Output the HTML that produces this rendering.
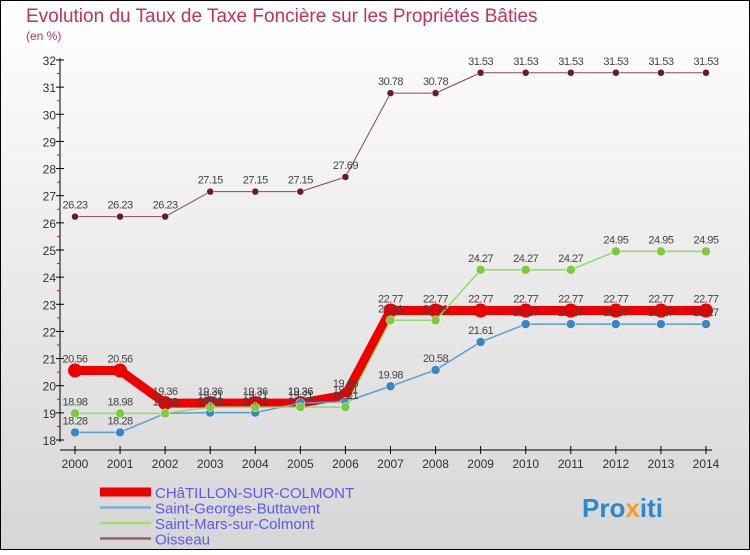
<!DOCTYPE html>
<html><head><meta charset="utf-8"><style>
body{margin:0}
#c{width:750px;height:550px;position:relative;font-family:"Liberation Sans",sans-serif}
</style></head><body>
<div id="c">
<svg id="s" width="750" height="550" xmlns="http://www.w3.org/2000/svg">
<defs><linearGradient id="bg" x1="0" y1="0" x2="0" y2="1"><stop offset="0" stop-color="#ffffff"/><stop offset="1" stop-color="#d6d6d6"/></linearGradient></defs>
<rect x="0.5" y="0.5" width="749" height="549" fill="url(#bg)" stroke="#000"/>
<text x="26" y="22" font-size="19" fill="#c8305a">Evolution du Taux de Taxe Foncière sur les Propriétés Bâties</text>
<text x="26" y="40" font-size="12" fill="#c8305a">(en %)</text>
<g id="axes"></g><g id="series"></g><g id="labels"></g><g id="legend"></g>
<text x="582" y="517" font-size="26" font-weight="bold" fill="#2a8ad0">Pro<tspan fill="#f0a020">x</tspan>iti</text>
</svg>
</div>
<script>
const years=[2000,2001,2002,2003,2004,2005,2006,2007,2008,2009,2010,2011,2012,2013,2014];
const yTicks=[18,19,20,21,22,23,24,25,26,27,28,29,30,31,32];
const chatillon=[20.56,20.56,19.36,19.36,19.36,19.36,19.65,22.77,22.77,22.77,22.77,22.77,22.77,22.77,22.77];
const stGeorges=[18.28,18.28,18.98,19.01,19.01,19.36,19.41,19.98,20.58,21.61,22.27,22.27,22.27,22.27,22.27];
const stMars=[18.98,18.98,18.98,19.21,19.21,19.21,19.21,22.41,22.41,24.27,24.27,24.27,24.95,24.95,24.95];
const oisseau=[26.23,26.23,26.23,27.15,27.15,27.15,27.69,30.78,30.78,31.53,31.53,31.53,31.53,31.53,31.53];
const seriesNames=["CHâTILLON-SUR-COLMONT","Saint-Georges-Buttavent","Saint-Mars-sur-Colmont","Oisseau"];
const NS="http://www.w3.org/2000/svg";
const X=i=>75+i*(706-75)/(years.length-1);
const Y=v=>440-(v-18)*(440-60)/14;
function mk(p,t,a){const e=document.createElementNS(NS,t);for(const k in a)e.setAttribute(k,a[k]);p.appendChild(e);return e;}
const ax=document.getElementById('axes');
let l=mk(ax,'line',{x1:60,y1:58,x2:60,y2:442,stroke:'#000'});


l=mk(ax,'line',{x1:60,y1:450,x2:712,y2:450,stroke:'#000'});


yTicks.forEach(v=>{
 mk(ax,'line',{x1:56,y1:Y(v),x2:64,y2:Y(v),stroke:'#000'});
 if(v<32)mk(ax,'line',{x1:57,y1:Y(v+0.5),x2:60,y2:Y(v+0.5),stroke:'#f00'});
 const t=mk(ax,'text',{x:56,y:Y(v)+5,'text-anchor':'end','font-size':12,fill:'#333'});
 t.textContent=v;
 
 
});
years.forEach((yr,i)=>{
 mk(ax,'line',{x1:X(i),y1:446,x2:X(i),y2:454,stroke:'#000'});
 const t=mk(ax,'text',{x:X(i),y:468,'text-anchor':'middle','font-size':12,fill:'#333'});
 t.textContent=yr;
 
 
});
const sg=document.getElementById('series'),lg=document.getElementById('labels');
const defs=[
 {d:chatillon,c:'#ee0000',w:9,r:7,n:'chatillon',lo:-8},
 {d:stGeorges,c:'#5a9fd0',w:1.5,r:4.5,n:'saint-georges',lo:-8,dc:'#3a86c4'},
 {d:stMars,c:'#8fdc6a',w:1.5,r:4.5,n:'saint-mars',lo:-8,dc:'#7acc3c'},
 {d:oisseau,c:'#8a4a4a',w:1,r:3.5,n:'oisseau',lo:-8,dc:'#6a1a2a'}];
defs.forEach(s=>{
 const p=mk(sg,'polyline',{points:s.d.map((v,i)=>X(i)+','+Y(v)).join(' '),fill:'none',stroke:s.c,'stroke-width':s.w,'stroke-linejoin':'round'});
 
 
 s.d.forEach((v,i)=>{
  const c=mk(sg,'circle',{cx:X(i),cy:Y(v),r:s.r,fill:s.dc||s.c,stroke:s.dc?'#fff':'none','stroke-width':0.5});
  
  
  const t=mk(lg,'text',{x:X(i),y:Y(v)+s.lo,'text-anchor':'middle','font-size':11,fill:'#444','letter-spacing':'-0.5'});
  t.textContent=v.toFixed(2);
  
  
 });
});
const le=document.getElementById('legend');
const lc=['#ee0000','#7ab0d8','#9ee070','#9a6060'],lw=[9,2.5,2.5,2.5];
seriesNames.forEach((n,i)=>{
 const y=492+i*15.5;
 const ln=mk(le,'line',{x1:100,y1:y,x2:151,y2:y,stroke:lc[i],'stroke-width':lw[i]});
 
 
 const t=mk(le,'text',{x:155,y:y+6,'font-size':15,fill:'#5a5af0'});
 t.textContent=n;
 
 
});
</script>
</body></html>
